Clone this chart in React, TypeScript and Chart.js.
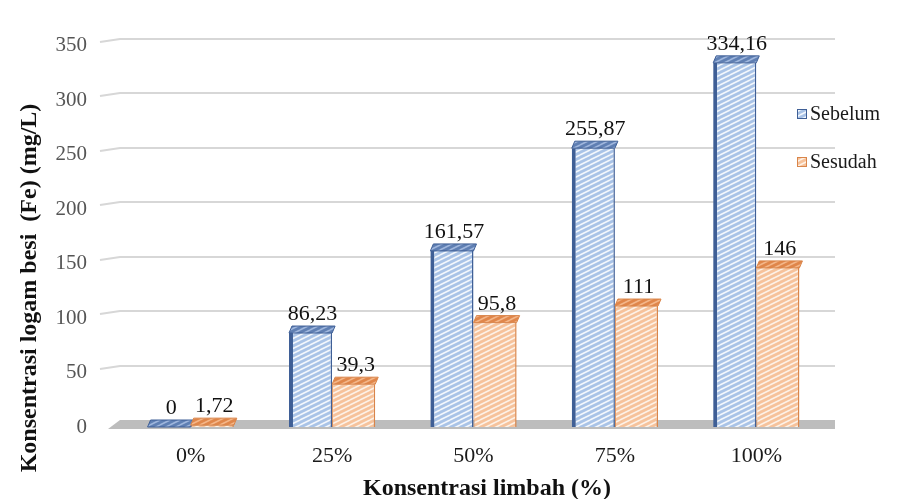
import React, { useEffect, useRef } from "react";
import { Chart, registerables } from "chart.js";

Chart.register(...registerables);

// Iron concentration before / after treatment, by waste concentration
const categories = ["0%", "25%", "50%", "75%", "100%"];
const sebelum = [0, 86.23, 161.57, 255.87, 334.16];
const sesudah = [1.72, 39.3, 95.8, 111, 146];
const seriesNames = ["Sebelum", "Sesudah"];
const yMin = 0;
const yMax = 350;
const yStep = 50;
const xTitle = "Konsentrasi limbah (%)";
const yTitle = "Konsentrasi logam besi  (Fe) (mg/L)";

const SERIF = "'Liberation Serif', 'Times New Roman', serif";

// diagonal "/" hatch tile
function makeHatch(base: string, stripe: string): CanvasPattern | string {
  const c = document.createElement("canvas");
  const w = 10;
  const h = 5;
  c.width = w;
  c.height = h;
  const g = c.getContext("2d");
  if (!g) return base;
  g.fillStyle = base;
  g.fillRect(0, 0, w, h);
  g.strokeStyle = stripe;
  g.lineWidth = 1.6;
  g.beginPath();
  for (const off of [-h, 0, h]) {
    g.moveTo(0, h + off);
    g.lineTo(w, off);
  }
  g.stroke();
  return g.createPattern(c, "repeat") || base;
}

const formatValue = (v: number) => String(v).replace(".", ",");

export default function App() {
  const canvasRef = useRef<HTMLCanvasElement | null>(null);

  useEffect(() => {
    const canvas = canvasRef.current;
    if (!canvas) return;

    const blueFill = makeHatch("#a9c3e7", "#f3f7fc");
    const orangeFill = makeHatch("#f6c29b", "#fdf1e6");
    const blueCap = makeHatch("#5f7fb3", "#9fb6dc");
    const orangeCap = makeHatch("#e0864a", "#f3b689");
    const fills = [blueFill, orangeFill];
    const caps = [blueCap, orangeCap];
    const borders = ["#3f5f96", "#d9854a"];

    // back wall gridlines and floor
    const wallPlugin = {
      id: "wall",
      beforeDatasetsDraw(chart: any) {
        const { ctx } = chart;
        const y = chart.scales.y;
        ctx.save();
        ctx.strokeStyle = "#d7d7d7";
        ctx.lineWidth = 2;
        for (let v = yMin + yStep; v <= yMax; v += yStep) {
          const py = Math.round(y.getPixelForValue(v)) - 7;
          ctx.beginPath();
          ctx.moveTo(100, py + 3);
          ctx.lineTo(120, py);
          ctx.lineTo(835, py);
          ctx.stroke();
        }
        const p0 = y.getPixelForValue(0);
        ctx.fillStyle = "#bdbdbd";
        ctx.beginPath();
        ctx.moveTo(108, p0 + 2);
        ctx.lineTo(835, p0 + 2);
        ctx.lineTo(835, p0 - 7);
        ctx.lineTo(120, p0 - 7);
        ctx.closePath();
        ctx.fill();
        ctx.restore();
      },
    };

    // bar tops and value labels
    const topPlugin = {
      id: "tops",
      afterDatasetsDraw(chart: any) {
        const { ctx } = chart;
        ctx.save();
        chart.data.datasets.forEach((ds: any, di: number) => {
          const meta = chart.getDatasetMeta(di);
          meta.data.forEach((el: any) => {
            const { x, y, width } = el.getProps(["x", "y", "width"], true);
            const l = x - width / 2;
            const r = x + width / 2;
            ctx.fillStyle = caps[di];
            ctx.strokeStyle = borders[di];
            ctx.lineWidth = 1;
            ctx.beginPath();
            ctx.moveTo(l, y);
            ctx.lineTo(r, y);
            ctx.lineTo(r + 3, y - 7);
            ctx.lineTo(l + 3, y - 7);
            ctx.closePath();
            ctx.fill();
            ctx.stroke();
          });
        });
        ctx.font = `22px ${SERIF}`;
        ctx.fillStyle = "#111111";
        ctx.textAlign = "center";
        ctx.textBaseline = "alphabetic";
        chart.data.datasets.forEach((ds: any, di: number) => {
          const meta = chart.getDatasetMeta(di);
          meta.data.forEach((el: any, i: number) => {
            const { x, y } = el.getProps(["x", "y"], true);
            ctx.fillText(formatValue(ds.data[i]), x + 2, y - 13);
          });
        });
        ctx.restore();
      },
      afterDraw(chart: any) {
        const { ctx } = chart;
        ctx.save();
        // legend
        const rows = [114, 162];
        ctx.font = `20px ${SERIF}`;
        ctx.textBaseline = "middle";
        ctx.textAlign = "left";
        seriesNames.forEach((name, i) => {
          ctx.fillStyle = fills[i];
          ctx.fillRect(797, rows[i] - 5, 10, 10);
          ctx.strokeStyle = borders[i];
          ctx.lineWidth = 1;
          ctx.strokeRect(797.5, rows[i] - 4.5, 9, 9);
          ctx.fillStyle = "#1a1a1a";
          ctx.fillText(name, 810, rows[i] + 1);
        });
        // axis titles
        ctx.font = `bold 24px ${SERIF}`;
        ctx.fillStyle = "#111111";
        ctx.textAlign = "center";
        ctx.fillText(xTitle, 487, 489);
        ctx.translate(30, 288);
        ctx.rotate(-Math.PI / 2);
        ctx.fillText(yTitle, 0, 0);
        ctx.restore();
      },
    };

    const chart = new Chart(canvas, {
      type: "bar",
      data: {
        labels: categories,
        datasets: [
          {
            label: seriesNames[0],
            data: sebelum,
            backgroundColor: blueFill as any,
            borderColor: borders[0],
            borderWidth: { left: 4, right: 1.5, top: 0, bottom: 0 } as any,
            borderSkipped: "bottom",
          },
          {
            label: seriesNames[1],
            data: sesudah,
            backgroundColor: orangeFill as any,
            borderColor: borders[1],
            borderWidth: { left: 1, right: 1.5, top: 0, bottom: 0 } as any,
            borderSkipped: "bottom",
          },
        ],
      },
      options: {
        animation: false,
        responsive: true,
        maintainAspectRatio: false,
        layout: { padding: { left: 0, right: 74, top: 32, bottom: 0 } },
        datasets: {
          bar: { categoryPercentage: 0.61, barPercentage: 1 },
        },
        plugins: {
          legend: { display: false },
          tooltip: { enabled: false },
          title: { display: false },
        },
        scales: {
          x: {
            grid: { display: false, drawTicks: false },
            border: { display: false },
            ticks: {
              color: "#1a1a1a",
              font: { family: SERIF, size: 22 },
              padding: 16,
              maxRotation: 0,
            },
            afterFit(scale: any) {
              scale.height = 72;
            },
          },
          y: {
            min: yMin,
            max: yMax,
            grid: { display: false, drawTicks: false },
            border: { display: false },
            ticks: {
              stepSize: yStep,
              color: "#555555",
              font: { family: SERIF, size: 21 },
              padding: 33,
            },
            afterFit(scale: any) {
              scale.width = 120;
            },
          },
        },
      },
      plugins: [wallPlugin, topPlugin],
    });

    return () => chart.destroy();
  }, []);

  return (
    <div
      style={{
        position: "fixed",
        left: 0,
        top: 0,
        width: 901,
        height: 499,
        background: "#ffffff",
      }}
    >
      <canvas ref={canvasRef} />
    </div>
  );
}
